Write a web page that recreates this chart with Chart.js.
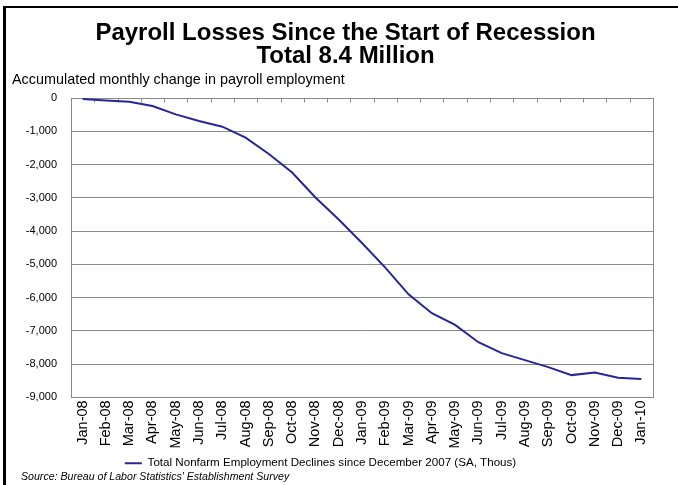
<!DOCTYPE html>
<html>
<head>
<meta charset="utf-8">
<script src="https://cdn.jsdelivr.net/npm/chart.js@4.4.1/dist/chart.umd.min.js"></script>
<style>
  html, body { margin: 0; padding: 0; background: #ffffff; }
  #wrap { position: relative; width: 678px; height: 485px; }
</style>
</head>
<body>
<div id="wrap"><canvas id="chart" width="678" height="485"></canvas></div>
<script>
// Months since the recession began
const months = [
  'Jan-08', 'Feb-08', 'Mar-08', 'Apr-08', 'May-08', 'Jun-08', 'Jul-08', 'Aug-08',
  'Sep-08', 'Oct-08', 'Nov-08', 'Dec-08', 'Jan-09', 'Feb-09', 'Mar-09', 'Apr-09',
  'May-09', 'Jun-09', 'Jul-09', 'Aug-09', 'Sep-09', 'Oct-09', 'Nov-09', 'Dec-09', 'Jan-10'
];

// Accumulated change in nonfarm payrolls since Dec 2007 (thousands, SA)
const payrollChange = [
  -30, -70, -110, -240, -490, -690, -860, -1190,
  -1680, -2240, -2990, -3650, -4360, -5100, -5900, -6470,
  -6820, -7340, -7670, -7880, -8090, -8330, -8250, -8410, -8450
];

// Value axis ticks
const yTicks = [0, -1000, -2000, -3000, -4000, -5000, -6000, -7000, -8000, -9000];

const titleLines = ['Payroll Losses Since the Start of Recession', 'Total 8.4 Million'];
const subtitleText = 'Accumulated monthly change in payroll employment';
const seriesName = 'Total Nonfarm Employment Declines since December 2007 (SA, Thous)';
const sourceText = "Source: Bureau of Labor Statistics' Establishment Survey";

const FONT = '"Liberation Sans", Arial, Helvetica, sans-serif';
const LINE_COLOR = '#26269a';
const GRID_COLOR = '#8a8a8a';

// Page frame, plot frame, inward tick marks along the zero line, source note
const decorations = {
  id: 'decorations',
  afterLayout(chart) {
    // nudge the centred title and legend blocks sideways
    if (chart.titleBlock) { chart.titleBlock.left += 13; chart.titleBlock.right += 13; }
    if (chart.legend) { chart.legend.left -= 12; chart.legend.right -= 12; }
  },
  beforeDatasetsDraw(chart) {
    const { ctx, chartArea: a, scales } = chart;
    ctx.save();
    ctx.strokeStyle = GRID_COLOR;
    ctx.lineWidth = 1;
    ctx.strokeRect(Math.round(a.left) + 0.5, Math.round(a.top) + 0.5,
                   Math.round(a.right - a.left), Math.round(a.bottom - a.top));
    // category boundary ticks hanging from the zero line
    const x = scales.x;
    const y0 = Math.round(scales.y.getPixelForValue(0)) + 0.5;
    ctx.beginPath();
    for (let i = 1; i < months.length; i++) {
      const px = Math.round((x.getPixelForValue(i - 1) + x.getPixelForValue(i)) / 2) + 0.5;
      ctx.moveTo(px, y0);
      ctx.lineTo(px, y0 + 4);
    }
    ctx.stroke();
    ctx.restore();
  },
  afterDraw(chart) {
    const { ctx } = chart;
    ctx.save();
    ctx.fillStyle = '#000000';
    ctx.fillRect(3, 6, 675, 2);
    ctx.fillRect(3, 6, 3, 479);
    ctx.font = 'italic 10.6px ' + FONT;
    ctx.textBaseline = 'middle';
    ctx.textAlign = 'left';
    ctx.fillText(sourceText, 21, 477);
    ctx.restore();
  }
};

new Chart(document.getElementById('chart'), {
  type: 'line',
  data: {
    labels: months,
    datasets: [{
      label: seriesName,
      data: payrollChange,
      borderColor: LINE_COLOR,
      backgroundColor: LINE_COLOR,
      borderWidth: 2,
      pointRadius: 0,
      tension: 0,
      fill: false
    }]
  },
  options: {
    responsive: false,
    animation: false,
    devicePixelRatio: 1,
    layout: { padding: { top: 6, left: 12, right: 25, bottom: 6 } },
    plugins: {
      title: {
        display: true,
        text: titleLines,
        color: '#000000',
        font: { family: FONT, size: 24, weight: 'bold', lineHeight: 0.96 },
        padding: { top: 15.5, bottom: 2 }
      },
      subtitle: {
        display: true,
        text: subtitleText,
        align: 'start',
        color: '#000000',
        font: { family: FONT, size: 14.4, lineHeight: 1.2 },
        padding: { top: 2, bottom: 9.2 }
      },
      legend: {
        display: true,
        position: 'bottom',
        labels: {
          usePointStyle: true,
          pointStyle: 'line',
          pointStyleWidth: 17,
          color: '#000000',
          padding: 10,
          font: { family: FONT, size: 11.6 }
        }
      },
      tooltip: { enabled: false }
    },
    scales: {
      x: {
        type: 'category',
        offset: true,
        grid: { display: false, drawTicks: false, offset: true },
        border: { display: true, color: GRID_COLOR, width: 1 },
        ticks: {
          autoSkip: false,
          minRotation: 90,
          maxRotation: 90,
          padding: 3,
          color: '#000000',
          font: { family: FONT, size: 14.5 }
        },
        afterFit(scale) { scale.height = 50; }
      },
      y: {
        min: -9000,
        max: 0,
        afterBuildTicks(scale) { scale.ticks = yTicks.map(v => ({ value: v })); },
        grid: { color: GRID_COLOR, lineWidth: 1, drawTicks: false },
        border: { display: true, color: GRID_COLOR, width: 1 },
        ticks: {
          padding: 14,
          color: '#000000',
          font: { family: FONT, size: 11 },
          callback: v => Number(v).toLocaleString('en-US')
        },
        afterFit(scale) { scale.width = 59; }
      }
    }
  },
  plugins: [decorations]
});
</script>
</body>
</html>
